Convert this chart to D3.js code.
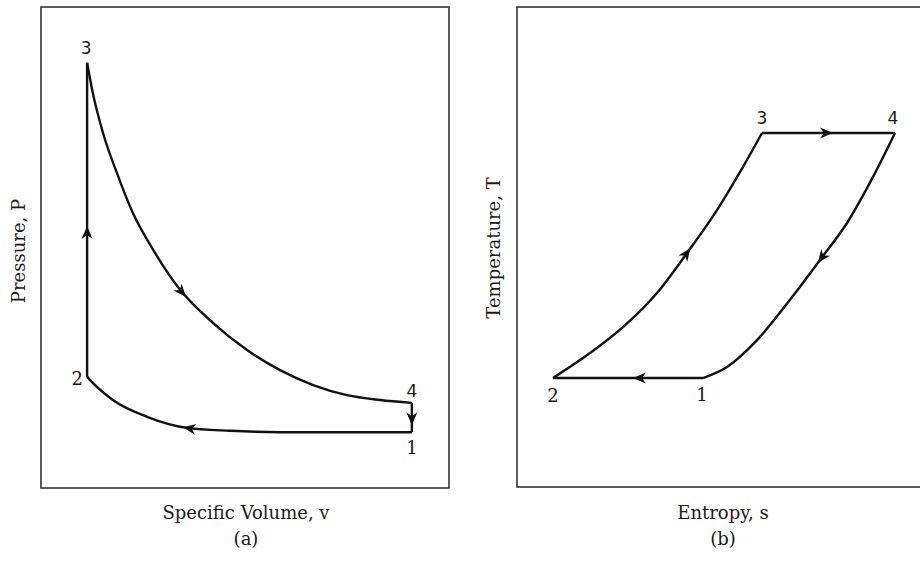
<!DOCTYPE html>
<html lang="en">
<head>
    <meta charset="UTF-8">
    <title>Otto cycle P-v and T-s</title>
    <script src="https://d3js.org/d3.v7.min.js"></script>
    <style>
        body { margin: 0; background: #fff; }
        .frame { fill: none; stroke: #333; stroke-width: 1.6; }
        .proc { fill: none; stroke: #111; stroke-width: 2.4; stroke-linejoin: round; }
        .head { fill: #111; }
        text { font-family: "DejaVu Serif", "Liberation Serif", serif; font-size: 18px; fill: #1a1a1a; }
        .num { font-size: 18px; }
        .num-sans { font-family: "DejaVu Sans", sans-serif; font-size: 17px; }
    </style>
</head>
<body>
<svg width="920" height="567"></svg>
<script>
    // ---- data (axis units 0..100) ----
    // (a) P-v diagram
    const pvState = { "1": [90.9, 11.6], "2": [11.3, 23.1], "3": [11.3, 88.4], "4": [90.9, 17.7] };
    const pvHeat23 = [[11.3, 23.1], [11.3, 88.4]];
    const pvExpansion34 = [[11.3, 88.4], [12.7, 82.1], [15.2, 73.8], [18.6, 65.5], [22.5, 57.2], [27.5, 49.5],
        [34.1, 41.2], [42.2, 34.3], [50.5, 28.7], [58.6, 24.5], [66.7, 21.4], [75.0, 19.3], [83.1, 18.3], [90.9, 17.7]];
    const pvReject41 = [[90.9, 17.7], [90.9, 11.6]];
    const pvCompression12 = [[90.9, 11.6], [75.0, 11.6], [58.6, 11.6], [46.3, 11.9], [35.8, 12.5],
        [26.0, 14.8], [17.6, 18.3], [13.7, 21.0], [11.3, 23.1]];

    // (b) T-s diagram
    const tsState = { "1": [46.5, 22.7], "2": [9.0, 22.7], "3": [61.25, 73.75], "4": [94.5, 73.75] };
    const tsHeat23 = [[9.0, 22.7], [18.25, 27.9], [26.5, 33.3], [35.0, 40.4], [42.5, 48.75],
        [50.0, 57.7], [56.5, 66.7], [61.25, 73.75]];
    const tsExpansion34 = [[61.25, 73.75], [94.5, 73.75]];
    const tsReject41 = [[94.5, 73.75], [89.0, 64.6], [82.5, 55.0], [75.75, 47.3], [68.25, 39.0],
        [60.0, 30.6], [52.5, 25.0], [46.5, 22.7]];
    const tsCompression12 = [[46.5, 22.7], [9.0, 22.7]];

    const svg = d3.select("svg");

    function panel(cfg) {
        const x = d3.scaleLinear().domain([0, 100]).range([cfg.left, cfg.right]);
        const y = d3.scaleLinear().domain([0, 100]).range([cfg.bottom, cfg.top]);
        const g = svg.append("g");

        g.append("rect").attr("class", "frame")
            .attr("x", cfg.left).attr("y", cfg.top)
            .attr("width", cfg.frameRight - cfg.left).attr("height", cfg.bottom - cfg.top);

        const line = d3.line().x(d => x(d[0])).y(d => y(d[1])).curve(d3.curveMonotoneX);

        cfg.procs.forEach(p => {
            const path = g.append("path").attr("class", "proc").attr("d", line(p.pts));
            // arrowhead at a fraction of the way along the process
            const node = path.node();
            const L = node.getTotalLength();
            const a = node.getPointAtLength(L * p.at);
            const b = node.getPointAtLength(Math.max(0, L * p.at - 2));
            const ang = Math.atan2(a.y - b.y, a.x - b.x) * 180 / Math.PI;
            g.append("path").attr("class", "head")
                .attr("d", "M0,0 L-13,-5.5 L-9,0 L-13,5.5 Z")
                .attr("transform", `translate(${a.x},${a.y}) rotate(${ang})`);
        });

        cfg.labels.forEach(l => {
            const s = cfg.states[l.id];
            g.append("text")
                .attr("class", l.sans ? "num-sans" : "num")
                .attr("x", x(s[0]) + l.dx).attr("y", y(s[1]) + l.dy)
                .attr("text-anchor", "middle")
                .text(l.id);
        });

        g.append("text").attr("x", cfg.xTitleX).attr("y", 519).attr("text-anchor", "middle").text(cfg.xTitle);
        g.append("text").attr("x", cfg.xTitleX).attr("y", 545).attr("text-anchor", "middle").text(cfg.tag);
        g.append("text").attr("text-anchor", "middle")
            .attr("transform", `translate(${cfg.yTitleX},${cfg.yTitleY}) rotate(-90)`)
            .text(cfg.yTitle);
    }

    panel({
        left: 41, right: 449, frameRight: 449, top: 7, bottom: 488,
        states: pvState,
        procs: [
            { pts: pvHeat23, at: 0.48 },
            { pts: pvExpansion34, at: 0.5 },
            { pts: pvReject41, at: 0.76 },
            { pts: pvCompression12, at: 0.675 }
        ],
        labels: [
            { id: "3", dx: -1, dy: -9, sans: true },
            { id: "2", dx: -10, dy: 8 },
            { id: "4", dx: 0, dy: -6, sans: true },
            { id: "1", dx: 0, dy: 22 }
        ],
        xTitle: "Specific Volume, v", xTitleX: 246, tag: "(a)",
        yTitle: "Pressure, P", yTitleX: 25, yTitleY: 251
    });

    panel({
        left: 517, right: 917, frameRight: 940, top: 7, bottom: 487,
        states: tsState,
        procs: [
            { pts: tsHeat23, at: 0.584 },
            { pts: tsExpansion34, at: 0.534 },
            { pts: tsReject41, at: 0.478 },
            { pts: tsCompression12, at: 0.467 }
        ],
        labels: [
            { id: "3", dx: 0, dy: -9, sans: true },
            { id: "4", dx: -2, dy: -9, sans: true },
            { id: "2", dx: 0, dy: 24 },
            { id: "1", dx: -1, dy: 23 }
        ],
        xTitle: "Entropy, s", xTitleX: 723, tag: "(b)",
        yTitle: "Temperature, T", yTitleX: 500, yTitleY: 248
    });
</script>
</body>
</html>
